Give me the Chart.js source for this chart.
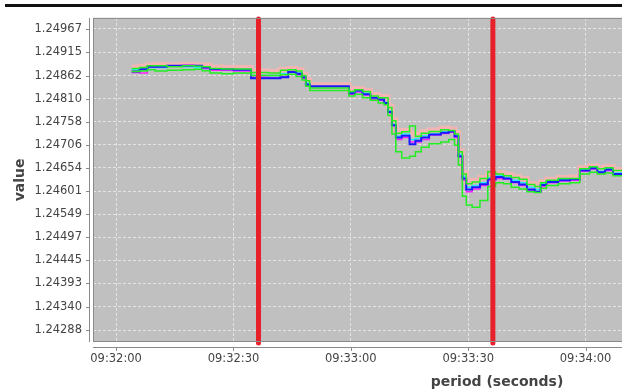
<!DOCTYPE html>
<html>
<head>
<meta charset="utf-8">
<script src="https://cdn.jsdelivr.net/npm/chart.js@4.4.0/dist/chart.umd.min.js"></script>
<style>
  html, body { margin: 0; padding: 0; background: #fff; overflow: hidden; }
  #wrap { width: 622px; height: 391px; position: relative; }
</style>
</head>
<body>
<div id="wrap"><canvas id="chart" width="622" height="391"></canvas></div>
<script>
// seconds after 09:32:00
const times = [4, 6, 8, 10, 13, 17, 20, 22, 24, 27, 30, 34.5, 39, 42, 44, 46, 47.5, 48.5, 49.5, 55,
  59.5, 61, 63, 65, 67, 68.5, 69.5, 70.5, 71.5, 73, 75, 76.5, 78, 80, 83, 85, 86.5, 87.5, 88.5, 89.5,
  91, 93, 95, 97, 99, 101, 103, 105, 107, 108.5, 110, 113, 116, 118.5, 121, 123, 125, 127, 129.5];

const blue = [1.24871, 1.24876, 1.24882, 1.24882, 1.24884, 1.24884, 1.24884, 1.24880, 1.24877, 1.24876,
  1.24875, 1.24856, 1.24856, 1.24858, 1.24870, 1.24866, 1.24858, 1.24842, 1.24838, 1.24838,
  1.24822, 1.24828, 1.24820, 1.24812, 1.24808, 1.24800, 1.24780, 1.24750, 1.24722, 1.24726,
  1.24707, 1.24715, 1.24722, 1.24729, 1.24733, 1.24736, 1.24725, 1.24680, 1.24630, 1.24605,
  1.24610, 1.24617, 1.24628, 1.24633, 1.24630, 1.24622, 1.24616, 1.24605, 1.24600, 1.24615,
  1.24622, 1.24626, 1.24628, 1.24648, 1.24653, 1.24644, 1.24650, 1.24640, 1.24642];

const greenHigh = [1.24878, 1.24880, 1.24884, 1.24884, 1.24882, 1.24884, 1.24883, 1.24882, 1.24878, 1.24877,
  1.24877, 1.24869, 1.24868, 1.24874, 1.24875, 1.24872, 1.24862, 1.24850, 1.24834, 1.24834,
  1.24826, 1.24830, 1.24826, 1.24816, 1.24812, 1.24812, 1.24790, 1.24760, 1.24732, 1.24735,
  1.24748, 1.24725, 1.24732, 1.24736, 1.24740, 1.24738, 1.24730, 1.24690, 1.24640, 1.24618,
  1.24622, 1.24630, 1.24645, 1.24640, 1.24636, 1.24632, 1.24628, 1.24616, 1.24612, 1.24620,
  1.24626, 1.24630, 1.24630, 1.24652, 1.24656, 1.24652, 1.24654, 1.24648, 1.24648];

const greenLow = [1.24871, 1.24872, 1.24875, 1.24872, 1.24874, 1.24875, 1.24876, 1.24873, 1.24868, 1.24866,
  1.24868, 1.24862, 1.24862, 1.24864, 1.24865, 1.24860, 1.24852, 1.24838, 1.24828, 1.24828,
  1.24816, 1.24820, 1.24812, 1.24806, 1.24800, 1.24796, 1.24772, 1.24730, 1.24690, 1.24676,
  1.24680, 1.24690, 1.24700, 1.24708, 1.24712, 1.24718, 1.24705, 1.24660, 1.24590, 1.24570,
  1.24565, 1.24580, 1.24612, 1.24620, 1.24618, 1.24610, 1.24606, 1.24600, 1.24598, 1.24608,
  1.24614, 1.24618, 1.24620, 1.24640, 1.24644, 1.24640, 1.24642, 1.24636, 1.24636];

const cyan = [1.24876, 1.24878, 1.24880, 1.24880, 1.24883, 1.24882, 1.24880, 1.24878, 1.24876, 1.24875,
  1.24874, 1.24862, 1.24862, 1.24866, 1.24870, 1.24868, 1.24856, 1.24845, 1.24836, 1.24836,
  1.24824, 1.24826, 1.24822, 1.24812, 1.24808, 1.24802, 1.24782, 1.24752, 1.24725, 1.24730,
  1.24718, 1.24720, 1.24726, 1.24730, 1.24735, 1.24736, 1.24726, 1.24684, 1.24634, 1.24610,
  1.24614, 1.24620, 1.24632, 1.24636, 1.24632, 1.24626, 1.24620, 1.24610, 1.24605, 1.24618,
  1.24624, 1.24628, 1.24628, 1.24650, 1.24654, 1.24646, 1.24652, 1.24642, 1.24644];

const magenta = [1.24869, 1.24868, 1.24882, 1.24884, 1.24884, 1.24885, 1.24883, 1.24878, 1.24874, 1.24874,
  1.24872, 1.24858, 1.24857, 1.24860, 1.24871, 1.24864, 1.24855, 1.24840, 1.24836, 1.24836,
  1.24820, 1.24825, 1.24818, 1.24808, 1.24806, 1.24800, 1.24778, 1.24748, 1.24718, 1.24722,
  1.24712, 1.24712, 1.24718, 1.24728, 1.24731, 1.24734, 1.24722, 1.24678, 1.24626, 1.24600,
  1.24606, 1.24614, 1.24626, 1.24630, 1.24628, 1.24620, 1.24614, 1.24604, 1.24600, 1.24612,
  1.24620, 1.24624, 1.24626, 1.24646, 1.24651, 1.24642, 1.24648, 1.24638, 1.24640];

const pink = [1.24881, 1.24883, 1.24886, 1.24887, 1.24886, 1.24887, 1.24886, 1.24885, 1.24881, 1.24880,
  1.24880, 1.24872, 1.24871, 1.24876, 1.24878, 1.24875, 1.24865, 1.24852, 1.24841, 1.24841,
  1.24829, 1.24833, 1.24828, 1.24819, 1.24815, 1.24814, 1.24793, 1.24762, 1.24735, 1.24738,
  1.24730, 1.24728, 1.24735, 1.24739, 1.24743, 1.24741, 1.24733, 1.24692, 1.24642, 1.24620,
  1.24625, 1.24632, 1.24640, 1.24642, 1.24639, 1.24634, 1.24630, 1.24618, 1.24614, 1.24622,
  1.24628, 1.24632, 1.24633, 1.24654, 1.24658, 1.24654, 1.24656, 1.24650, 1.24650];

const markerTimes = [36.4, 96.3];
const xTickValues = [0, 30, 60, 90, 120];
const yTickLabels = ['1.24967', '1.24915', '1.24862', '1.24810', '1.24758', '1.24706', '1.24654',
  '1.24601', '1.24549', '1.24497', '1.24445', '1.24393', '1.24340', '1.24288'];

function pts(vals) {
  return times.map((t, i) => ({ x: t, y: vals[i] }));
}

function fmtTime(s) {
  const total = 9 * 3600 + 32 * 60 + Math.round(s);
  const h = Math.floor(total / 3600), m = Math.floor(total / 60) % 60, sec = total % 60;
  return [h, m, sec].map(n => String(n).padStart(2, '0')).join(':');
}

// plot background, axis lines, markers and the x title
const jfreeLook = {
  id: 'jfreeLook',
  beforeDraw(chart) {
    const { ctx, chartArea: a } = chart;
    ctx.save();
    ctx.fillStyle = '#c0c0c0';
    ctx.fillRect(a.left, a.top, a.right - a.left, a.bottom - a.top);
    ctx.fillStyle = '#111';
    ctx.fillRect(5, 4, 617, 3);
    ctx.restore();
  },
  afterDatasetsDraw(chart) {
    const { ctx, chartArea: a, scales } = chart;
    ctx.save();
    ctx.strokeStyle = '#e8202a';
    ctx.lineWidth = 5;
    ctx.lineCap = 'round';
    markerTimes.forEach(t => {
      const x = scales.x.getPixelForValue(t);
      ctx.beginPath();
      ctx.moveTo(x, a.top + 1);
      ctx.lineTo(x, a.bottom + 1);
      ctx.stroke();
    });
    ctx.restore();
  },
  afterDraw(chart) {
    const { ctx, chartArea: a, scales } = chart;
    ctx.save();
    ctx.strokeStyle = '#8a8a8a';
    ctx.lineWidth = 1;
    ctx.strokeRect(a.left + 0.5, a.top + 0.5, a.right - a.left, a.bottom - a.top - 1);
    // offset axis lines
    ctx.beginPath();
    ctx.moveTo(89.5, a.top);
    ctx.lineTo(89.5, a.bottom);
    ctx.moveTo(a.left, a.bottom + 5.5);
    ctx.lineTo(a.right, a.bottom + 5.5);
    scales.y.ticks.forEach(t => {
      const y = Math.round(scales.y.getPixelForValue(t.value)) + 0.5;
      ctx.moveTo(86, y);
      ctx.lineTo(89.5, y);
    });
    scales.x.ticks.forEach(t => {
      const x = Math.round(scales.x.getPixelForValue(t.value)) + 0.5;
      ctx.moveTo(x, a.bottom + 5.5);
      ctx.lineTo(x, a.bottom + 9);
    });
    ctx.stroke();
    ctx.fillStyle = '#444';
    ctx.font = 'bold 14px "DejaVu Sans"';
    ctx.textAlign = 'center';
    ctx.textBaseline = 'middle';
    ctx.fillText('period (seconds)', 497, 382);
    ctx.restore();
  }
};

const lineStyle = { stepped: true, pointRadius: 0, fill: false, tension: 0 };

new Chart(document.getElementById('chart'), {
  type: 'line',
  data: {
    datasets: [
      { ...lineStyle, label: 'green high', data: pts(greenHigh), borderColor: '#22ee22', borderWidth: 1.5, order: 0 },
      { ...lineStyle, label: 'green low', data: pts(greenLow), borderColor: '#22ee22', borderWidth: 1.5, order: 1 },
      { ...lineStyle, label: 'blue', data: pts(blue), borderColor: '#1a1aff', borderWidth: 2, order: 2 },
      { ...lineStyle, label: 'magenta', data: pts(magenta), borderColor: '#ff22ff', borderWidth: 1.5, order: 3 },
      { ...lineStyle, label: 'cyan', data: pts(cyan), borderColor: '#22e8ff', borderWidth: 1.5, order: 4 },
      { ...lineStyle, label: 'pink', data: pts(pink), borderColor: '#f4b4b4', borderWidth: 5, order: 5 }
    ]
  },
  options: {
    responsive: false,
    animation: false,
    layout: { padding: { top: 16, right: 0, left: 0, bottom: 0 } },
    plugins: { legend: { display: false }, tooltip: { enabled: false } },
    scales: {
      x: {
        type: 'linear',
        min: -5.9,
        max: 129.3,
        afterBuildTicks: s => { s.ticks = xTickValues.map(v => ({ value: v })); },
        afterFit: s => { s.height = 49; },
        grid: { color: '#e4e4e4', drawTicks: false },
        border: { display: false, dash: [3, 2] },
        ticks: {
          padding: 10,
          color: '#444',
          font: { family: 'DejaVu Sans', size: 11.5 },
          maxRotation: 0,
          callback: v => fmtTime(v)
        }
      },
      y: {
        type: 'linear',
        min: 1.24261,
        max: 1.24992,
        afterBuildTicks: s => { s.ticks = yTickLabels.map(v => ({ value: parseFloat(v) })); },
        afterFit: s => { s.width = 93; },
        grid: { color: '#e4e4e4', drawTicks: false },
        border: { display: false, dash: [3, 2] },
        ticks: {
          padding: 11,
          color: '#444',
          font: { family: 'DejaVu Sans', size: 11.5 },
          callback: (v, i) => yTickLabels[i]
        },
        title: {
          display: true,
          text: 'value',
          color: '#444',
          font: { family: 'DejaVu Sans', size: 14, weight: 'bold' },
          padding: { top: 12, bottom: 0 }
        }
      }
    }
  },
  plugins: [jfreeLook]
});
</script>
</body>
</html>
